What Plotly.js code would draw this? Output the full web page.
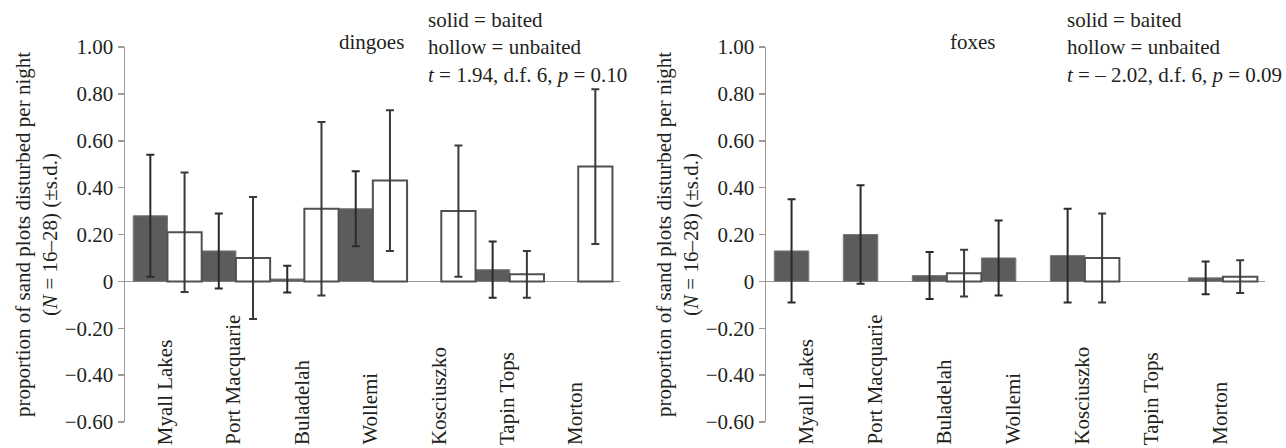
<!DOCTYPE html>
<html>
<head>
<meta charset="utf-8">
<script src="https://cdn.plot.ly/plotly-3.0.1.min.js"></script>
<style>html,body{margin:0;padding:0;background:#fff;}#chart{width:1286px;height:448px;}</style>
</head>
<body>
<div id="chart"></div>
<script>
const categories = ['Myall Lakes','Port Macquarie','Buladelah','Wollemi','Kosciuszko','Tapin Tops','Morton'];
const dingoBaited     = [0.28, 0.13, 0.01, 0.31, null, 0.05, null];
const dingoBaitedSD   = [0.26, 0.16, 0.057, 0.16, null, 0.12, null];
const dingoUnbaited   = [0.21, 0.10, 0.31, 0.43, 0.30, 0.03, 0.49];
const dingoUnbaitedSD = [0.255, 0.26, 0.37, 0.30, 0.28, 0.10, 0.33];
const foxBaited       = [0.13, 0.20, 0.025, 0.10, 0.11, null, 0.015];
const foxBaitedSD     = [0.22, 0.21, 0.10, 0.16, 0.20, null, 0.07];
const foxUnbaited     = [null, null, 0.035, null, 0.10, null, 0.02];
const foxUnbaitedSD   = [null, null, 0.10, null, 0.19, null, 0.07];
const yTickVals = [-0.6, -0.4, -0.2, 0, 0.2, 0.4, 0.6, 0.8, 1.0];
const yTickText = ['\u22120.60','\u22120.40','\u22120.20','0','0.20','0.40','0.60','0.80','1.00'];
const yTitle = 'proportion of sand plots disturbed per night<br>(<i>N</i> = 16\u201328) (\u00b1s.d.)';
const panelTitles = ['dingoes', 'foxes'];
const statTexts = [
  'solid = baited<br>hollow = unbaited<br><i>t</i> = 1.94, d.f. 6, <i>p</i> = 0.10',
  'solid = baited<br>hollow = unbaited<br><i>t</i> = \u2013 2.02, d.f. 6, <i>p</i> = 0.09'
];

const FONT = 'Liberation Serif';
const TXT = '#231f20';
const AX = '#9a9a9a';

function solid(y, sd, xa, ya) {
  return {type:'bar', x: categories, y: y, xaxis: xa, yaxis: ya,
    marker:{color:'#5c5c5c', line:{color:'#7a7a7a', width:1}},
    error_y:{type:'data', array: sd, visible:true, color:'#2a2a2a', thickness:2, width:4},
    showlegend:false, hoverinfo:'skip'};
}
function hollow(y, sd, xa, ya) {
  return {type:'bar', x: categories, y: y, xaxis: xa, yaxis: ya,
    marker:{color:'#ffffff', line:{color:'#505050', width:2}},
    error_y:{type:'data', array: sd, visible:true, color:'#3a3a3a', thickness:2, width:4},
    showlegend:false, hoverinfo:'skip'};
}

const data = [
  solid(dingoBaited, dingoBaitedSD, 'x', 'y'),
  hollow(dingoUnbaited, dingoUnbaitedSD, 'x', 'y'),
  solid(foxBaited, foxBaitedSD, 'x2', 'y2'),
  hollow(foxUnbaited, foxUnbaitedSD, 'x2', 'y2')
];

function yax(anchor) {
  return {anchor: anchor, range:[-0.6, 1.0], tickvals: yTickVals, ticktext: yTickText,
    showline:true, linecolor:AX, linewidth:1.5, ticks:'outside', ticklen:6, tickcolor:AX, tickwidth:1.5,
    showgrid:false, zeroline:true, zerolinecolor:AX, zerolinewidth:1.5,
    tickfont:{family:FONT, size:21, color:TXT},
    title:{text:yTitle, font:{family:FONT, size:21, color:TXT}, standoff:1}};
}
function xax(domain, anchor) {
  return {domain: domain, anchor: anchor, type:'category', range:[-0.62, 6.61],
    showline:false, showticklabels:false, ticks:'', showgrid:false, zeroline:false};
}

const annotations = [];
[['x', panelTitles[0], 0.186, statTexts[0], 0.2641], ['x2', panelTitles[1], 0.722, statTexts[1], 0.8245]].forEach(function(p){
  categories.forEach(function(c){
    annotations.push({x:c, xref:p[0], y:-0.066, yref:'paper', yanchor:'bottom', xanchor:'center',
      textangle:-90, text:c, showarrow:false, xshift:-3, font:{family:FONT, size:21, color:TXT}});
  });
  annotations.push({x:p[2], xref:'paper', y:1.013, yref:'paper', xanchor:'left', yanchor:'middle',
    text:p[1], showarrow:false, font:{family:FONT, size:21, color:TXT}});
  annotations.push({x:p[4], xref:'paper', y:1.11, yref:'paper', xanchor:'left', yanchor:'top', align:'left',
    text:p[3], showarrow:false, font:{family:FONT, size:21, color:TXT}});
});

const layout = {
  width:1286, height:448,
  margin:{l:125, r:21, t:47, b:26},
  paper_bgcolor:'#fff', plot_bgcolor:'#fff',
  barmode:'group', bargap:0, bargroupgap:0,
  xaxis: xax([0, 0.4342], 'y'),
  xaxis2: xax([0.5623, 1], 'y2'),
  yaxis: yax('x'),
  yaxis2: yax('x2'),
  annotations: annotations,
  font:{family:FONT, color:TXT}
};

Plotly.newPlot('chart', data, layout, {staticPlot:true, displayModeBar:false});
</script>
</body>
</html>
